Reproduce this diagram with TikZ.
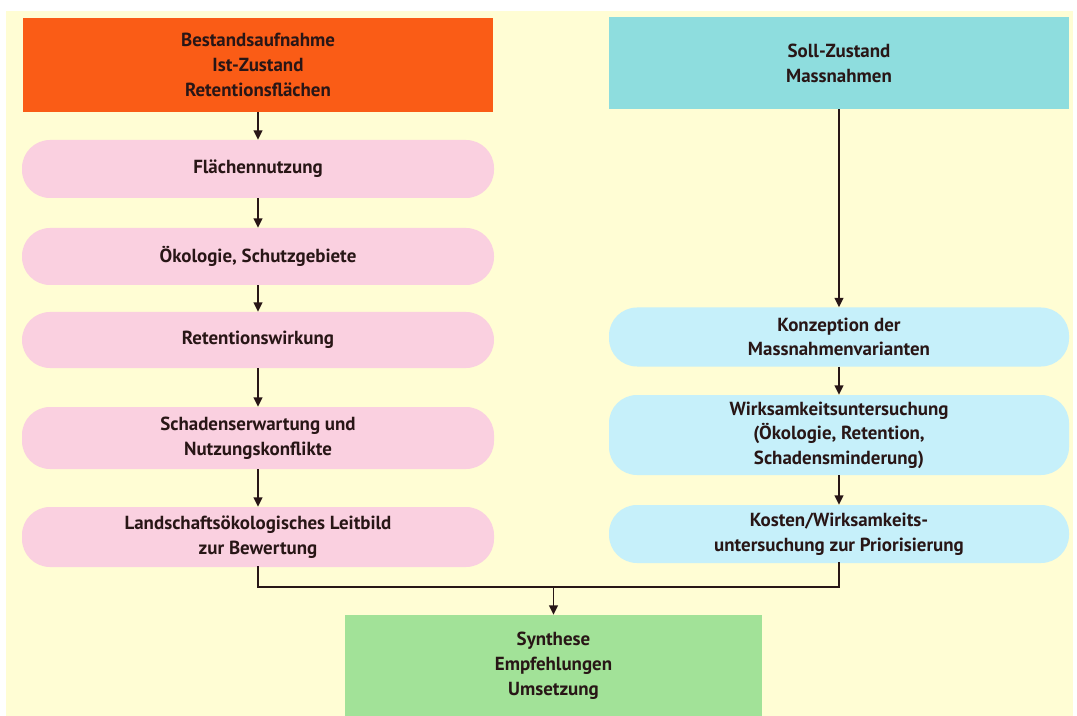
\documentclass[tikz,border=0pt]{standalone}
\usepackage{fontspec}
\setmainfont{PT Sans}
\usetikzlibrary{arrows.meta}
\definecolor{bgyellow}{RGB}{255,253,212}
\definecolor{hdorange}{RGB}{250,92,22}
\definecolor{hdcyan}{RGB}{142,221,222}
\definecolor{pillpink}{RGB}{250,208,224}
\definecolor{pillcyan}{RGB}{198,240,250}
\definecolor{boxgreen}{RGB}{162,226,152}
\definecolor{txt}{RGB}{40,22,22}
\tikzset{
  hdbox/.style={rectangle, inner sep=0pt, align=center, text=txt,
    font=\bfseries\fontsize{14.2}{18.6}\selectfont},
  pill/.style={rectangle, rounded corners=21pt, inner sep=0pt, align=center, text=txt,
    font=\bfseries\fontsize{14.2}{18.4}\selectfont},
  lpill/.style={pill, fill=pillpink, minimum width=354pt},
  rpill/.style={pill, fill=pillcyan, minimum width=345pt},
  conn/.style={draw=txt, line width=1.3pt},
  arr/.style={conn, -{Triangle[width=6.5pt,length=7pt]}}
}
\begin{document}
\begin{tikzpicture}[x=0.75pt,y=-0.75pt]
\useasboundingbox (0,0) rectangle (1077,716);
\fill[white] (0,0) rectangle (1077,716);
\fill[bgyellow] (6,11) rectangle (1073,716);

% left column
\node[hdbox, fill=hdorange, minimum width=352.5pt, minimum height=70.5pt] (best) at (258,65)
  {Bestandsaufnahme\\Ist-Zustand\\Retentionsflächen};
\node[lpill, minimum height=43.5pt] (flae) at (258,169) {Flächennutzung};
\node[lpill, minimum height=42.75pt] (oeko) at (258,256.5) {Ökologie, Schutzgebiete};
\node[lpill, minimum height=42pt] (ret) at (258,340) {Retentionswirkung};
\node[lpill, minimum height=46.5pt] (scha) at (258,438) {Schadenserwartung und\\Nutzungskonflikte};
\node[lpill, minimum height=45pt] (land) at (258,537) {Landschaftsökologisches Leitbild\\zur Bewertung};

% right column
\node[hdbox, fill=hdcyan, minimum width=345pt, minimum height=69pt] (soll) at (839,63)
  {Soll-Zustand\\Massnahmen};
\node[rpill, minimum height=44.25pt] (konz) at (839,337) {Konzeption der\\Massnahmenvarianten};
\node[rpill, minimum height=60pt] (wirk) at (839,435) {Wirksamkeitsuntersuchung\\(Ökologie, Retention,\\Schadensminderung)};
\node[rpill, minimum height=43.5pt] (kost) at (839,534) {Kosten/Wirksamkeits-\\untersuchung zur Priorisierung};

% bottom
\node[hdbox, fill=boxgreen, minimum width=312.75pt, minimum height=76.5pt] (syn) at (553.5,666)
  {Synthese\\Empfehlungen\\Umsetzung};

\coordinate (mid) at (553.5,587);

\draw[arr] (best) -- (flae);
\draw[arr] (flae) -- (oeko);
\draw[arr] (oeko) -- (ret);
\draw[arr] (ret) -- (scha);
\draw[arr] (scha) -- (land);

\draw[arr] (soll) -- (konz);
\draw[arr] (konz) -- (wirk);
\draw[arr] (wirk) -- (kost);

\draw[conn, line cap=rect] (land.south) |- (mid) -| (kost.south);
\draw[arr] (mid) -- (syn.north);
\end{tikzpicture}
\end{document}
